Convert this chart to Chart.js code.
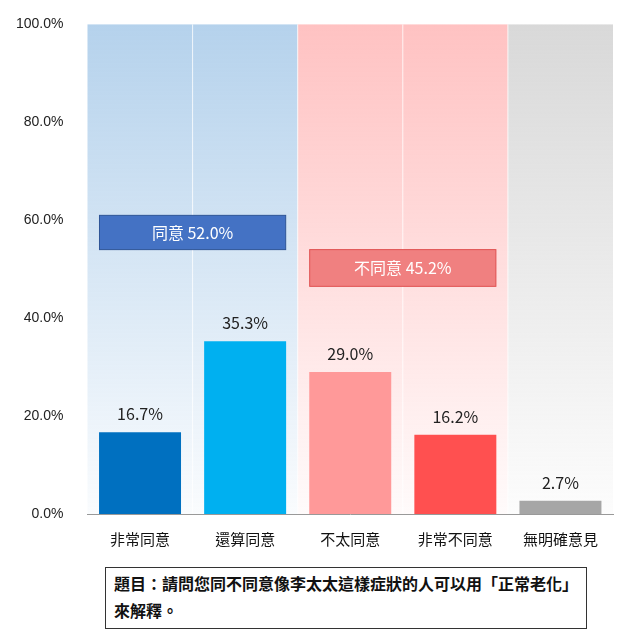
<!DOCTYPE html>
<html><head><meta charset="utf-8">
<script src="https://cdn.jsdelivr.net/npm/chart.js@4"></script>
<style>
body{margin:0;background:#fff;font-family:"Noto Sans CJK TC","Noto Sans",sans-serif}
#wrap{position:relative;width:623px;height:640px}
#q{position:absolute;left:105px;top:567px;width:464px;height:56px;border:1px solid #333;font-size:16px;font-weight:bold;line-height:27px;padding:2px 8px;color:#111;background:#fff}
</style></head><body>
<div id="wrap"><canvas id="c" width="623" height="560"></canvas>
<div id="q">題目：請問您同不同意像李太太這樣症狀的人可以用「正常老化」來解釋。</div></div>
<script>
const categories=['非常同意','還算同意','不太同意','非常不同意','無明確意見'];
const values=[16.7,35.3,29.0,16.2,2.7];
const barColors=['#0070C0','#00B0F0','#FF9999','#FF5050','#A6A6A6'];
const yTicks=[0,20,40,60,80,100];
const groups=[{label:'同意 52.0%',from:0,to:1,top:61,bottom:54,color:'#4472C4',border:'#2F5597'},
{label:'不同意 45.2%',from:2,to:3,top:54,bottom:46.5,color:'#F08080',border:'#E05050'}];

const bgPlugin={id:'bg',beforeDatasetsDraw(ch){
  const {ctx,chartArea:a,scales:{x}}=ch;const w=x.getPixelForValue(1)-x.getPixelForValue(0);
  const bands=[[0,1,'rgba(91,155,213,'],[2,3,'rgba(255,120,120,'],[4,4,'rgba(170,170,170,']];
  bands.forEach(([f,t,c])=>{const l=x.getPixelForValue(f)-w/2,r=x.getPixelForValue(t)+w/2;
    const g=ctx.createLinearGradient(0,a.top,0,a.bottom);g.addColorStop(0,c+'0.45)');g.addColorStop(1,c+'0.03)');
    ctx.fillStyle=g;ctx.fillRect(l,a.top,r-l,a.bottom-a.top);});
  ctx.strokeStyle='rgba(255,255,255,0.8)';ctx.lineWidth=1;
  for(let i=0;i<categories.length-1;i++){const p=x.getPixelForValue(i)+w/2;ctx.beginPath();ctx.moveTo(p,a.top);ctx.lineTo(p,a.bottom);ctx.stroke();}
},afterDatasetsDraw(ch){
  const {ctx,scales:{x,y}}=ch;const w=x.getPixelForValue(1)-x.getPixelForValue(0);
  ctx.font='16px "Noto Sans CJK TC",sans-serif';ctx.textAlign='center';ctx.textBaseline='bottom';ctx.fillStyle='#222';
  ch.getDatasetMeta(0).data.forEach((b,i)=>ctx.fillText(values[i].toFixed(1)+'%',b.x,b.y-10));
  groups.forEach(g=>{const l=x.getPixelForValue(g.from)-w/2+12,r=x.getPixelForValue(g.to)+w/2-12;
    const t=y.getPixelForValue(g.top),bt=y.getPixelForValue(g.bottom);
    ctx.fillStyle=g.color;ctx.fillRect(l,t,r-l,bt-t);ctx.strokeStyle=g.border;ctx.strokeRect(l,t,r-l,bt-t);
    ctx.fillStyle='#fff';ctx.textBaseline='middle';ctx.fillText(g.label,(l+r)/2,(t+bt)/2);ctx.textBaseline='bottom';});
}};

new Chart(document.getElementById('c'),{type:'bar',
data:{labels:categories,datasets:[{data:values,backgroundColor:barColors,categoryPercentage:0.78,barPercentage:1}]},
options:{responsive:false,animation:false,layout:{padding:{top:3,right:10,left:0,bottom:4}},
plugins:{legend:{display:false},tooltip:{enabled:false}},
scales:{x:{grid:{display:false},border:{color:'#999'},ticks:{color:'#111',padding:8,font:{size:15,family:'"Noto Sans CJK TC",sans-serif'}}},
y:{min:0,max:100,afterBuildTicks(s){s.ticks=yTicks.map(v=>({value:v}));},grid:{display:false},border:{display:false},
ticks:{color:'#222',padding:16,font:{size:14},callback:v=>v.toFixed(1)+'%'}}}},
plugins:[bgPlugin]});
</script></body></html>
